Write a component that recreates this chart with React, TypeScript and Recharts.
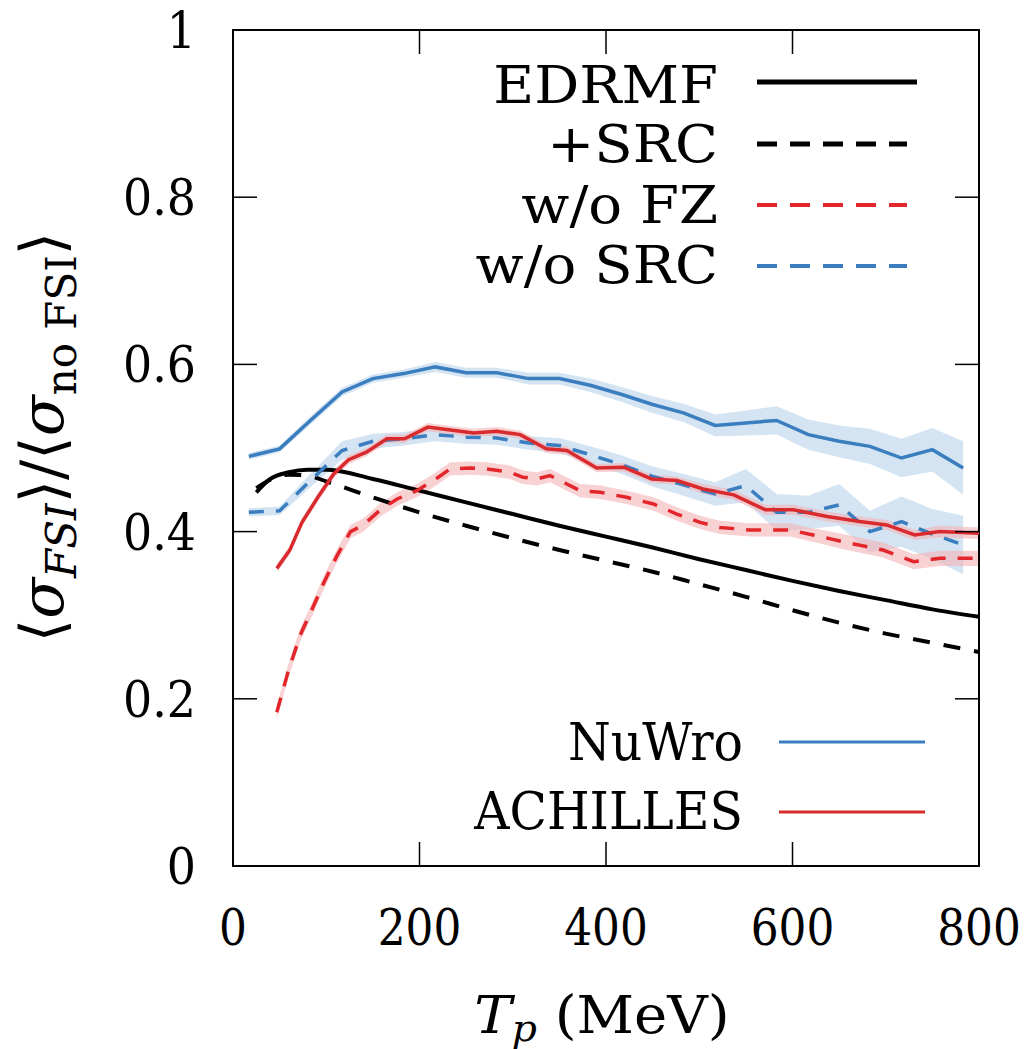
import React from 'react';
import { ComposedChart, Line, Area, XAxis, YAxis, ReferenceArea } from 'recharts';

const W = 1025;
const H = 1049;
const PL = 233;
const PR = 979;
const PT = 30;
const PB = 866;
const TICK = 24;
const FONT = '"DejaVu Serif", serif';

const xTicks = [0, 200, 400, 600, 800];
const yTicks = [0, 0.2, 0.4, 0.6, 0.8, 1];

// NuWro (bins of T_p, MeV)
const nuwroTp = [17, 50, 83, 117, 150, 183, 217, 250, 283, 317, 350, 383, 417, 450, 483, 517, 550, 583, 617, 650, 683, 717, 750, 783];
const nuwroFull = [0.490, 0.499, 0.533, 0.567, 0.583, 0.589, 0.597, 0.590, 0.590, 0.583, 0.583, 0.575, 0.564, 0.552, 0.542, 0.527, 0.530, 0.533, 0.516, 0.508, 0.502, 0.488, 0.498, 0.476];
const nuwroFullErr = [0.004, 0.004, 0.005, 0.005, 0.005, 0.005, 0.006, 0.006, 0.006, 0.007, 0.007, 0.008, 0.009, 0.010, 0.011, 0.013, 0.015, 0.017, 0.018, 0.019, 0.021, 0.023, 0.026, 0.032];
const nuwroNoSrc = [0.423, 0.425, 0.461, 0.497, 0.508, 0.511, 0.516, 0.513, 0.512, 0.506, 0.503, 0.492, 0.480, 0.466, 0.456, 0.445, 0.455, 0.423, 0.423, 0.432, 0.400, 0.412, 0.397, 0.384];
const nuwroNoSrcErr = [0.005, 0.005, 0.008, 0.011, 0.009, 0.008, 0.008, 0.008, 0.008, 0.008, 0.009, 0.010, 0.011, 0.012, 0.013, 0.014, 0.020, 0.022, 0.020, 0.025, 0.025, 0.030, 0.030, 0.035];

// ACHILLES full
const achFullTp = [47, 61, 74, 91, 108, 124, 143, 165, 184, 209, 229, 258, 283, 308, 336, 358, 390, 419, 449, 476, 504, 537, 571, 601, 637, 672, 701, 731, 758, 800];
const achFull = [0.356, 0.378, 0.411, 0.441, 0.469, 0.486, 0.495, 0.511, 0.511, 0.525, 0.522, 0.518, 0.520, 0.516, 0.499, 0.497, 0.476, 0.477, 0.463, 0.461, 0.451, 0.444, 0.426, 0.426, 0.418, 0.412, 0.408, 0.396, 0.400, 0.398];
const achFullErr = [0.005, 0.005, 0.005, 0.005, 0.005, 0.005, 0.005, 0.005, 0.005, 0.005, 0.005, 0.005, 0.005, 0.005, 0.005, 0.005, 0.005, 0.005, 0.005, 0.005, 0.006, 0.006, 0.006, 0.006, 0.006, 0.006, 0.006, 0.006, 0.007, 0.007];

// ACHILLES w/o FZ
const achNoFzTp = [47, 59, 72, 86, 97, 111, 126, 140, 158, 176, 197, 215, 233, 254, 272, 297, 311, 326, 340, 358, 372, 394, 422, 451, 476, 501, 522, 554, 597, 622, 654, 697, 730, 758, 800];
const achNoFz = [0.184, 0.232, 0.276, 0.310, 0.338, 0.370, 0.400, 0.408, 0.426, 0.439, 0.449, 0.461, 0.475, 0.476, 0.475, 0.471, 0.465, 0.463, 0.467, 0.457, 0.449, 0.447, 0.441, 0.433, 0.421, 0.411, 0.405, 0.402, 0.402, 0.396, 0.388, 0.378, 0.364, 0.368, 0.368];
const achNoFzErr = [0.008, 0.008, 0.008, 0.008, 0.008, 0.008, 0.008, 0.008, 0.008, 0.008, 0.008, 0.008, 0.008, 0.008, 0.008, 0.008, 0.008, 0.008, 0.008, 0.008, 0.008, 0.008, 0.008, 0.008, 0.008, 0.008, 0.008, 0.008, 0.008, 0.008, 0.009, 0.009, 0.009, 0.009, 0.009];

// EDRMF calculations
const edTp = [25, 40, 60, 80, 100, 150, 200, 250, 300, 350, 400, 450, 500, 550, 600, 650, 700, 750, 800];
const edrmf = [0.447, 0.463, 0.471, 0.474, 0.474, 0.463, 0.449, 0.435, 0.421, 0.407, 0.394, 0.381, 0.367, 0.354, 0.341, 0.329, 0.318, 0.307, 0.298];
const edrmfSrc = [0.452, 0.462, 0.468, 0.467, 0.460, 0.441, 0.423, 0.407, 0.392, 0.378, 0.365, 0.352, 0.337, 0.322, 0.306, 0.291, 0.278, 0.267, 0.256];

const topLegendNames = ['EDRMF', '+SRC', 'w/o FZ', 'w/o SRC'];
const bottomLegendNames = ['NuWro', 'ACHILLES'];

const BLUE = '#3a7ebf';
const RED = '#d92a2e';
const RED_DASH = '#e3262b';
const BLUE_BAND = '#b7d2ea';
const RED_BAND = '#f4b3b6';

const pts = (xs: number[], ys: number[], errs?: number[]) =>
  xs.map((x, i) => ({
    x,
    y: ys[i],
    band: errs ? [ys[i] - errs[i], ys[i] + errs[i]] : undefined,
  }));

const nuwroFullData = pts(nuwroTp, nuwroFull, nuwroFullErr);
const nuwroNoSrcData = pts(nuwroTp, nuwroNoSrc, nuwroNoSrcErr);
const achFullData = pts(achFullTp, achFull, achFullErr);
const achNoFzData = pts(achNoFzTp, achNoFz, achNoFzErr);
const edData = pts(edTp, edrmf);
const edSrcData = pts(edTp, edrmfSrc);

const XTick = (props: any) => {
  const { x, payload } = props;
  return (
    <g>
      <line x1={x} x2={x} y1={PB} y2={PB - TICK} stroke="#000" strokeWidth={1.5} />
      <line x1={x} x2={x} y1={PT} y2={PT + TICK} stroke="#000" strokeWidth={1.5} />
      <text transform={`translate(${x} ${PB + 79}) scale(0.86 1)`} textAnchor="middle" fontFamily={FONT} fontSize={51} fill="#000">
        {String(payload.value)}
      </text>
    </g>
  );
};

const YTick = (props: any) => {
  const { y, payload } = props;
  return (
    <g>
      <line x1={PL} x2={PL + TICK} y1={y} y2={y} stroke="#000" strokeWidth={1.5} />
      <line x1={PR} x2={PR - TICK} y1={y} y2={y} stroke="#000" strokeWidth={1.5} />
      <text transform={`translate(196 ${y + 18}) scale(0.9 1)`} textAnchor="end" fontFamily={FONT} fontSize={51} fill="#000">
        {String(payload.value)}
      </text>
    </g>
  );
};

const topStyles = [
  { color: '#000', dash: undefined as string | undefined, width: 5 },
  { color: '#000', dash: '20 13', width: 5 },
  { color: RED_DASH, dash: '20 13', width: 4 },
  { color: BLUE, dash: '20 13', width: 4 },
];
const topRows = [84, 143, 204, 264];
const bottomColors = [BLUE, RED];
const bottomRows = [741, 810];

const Overlay = () => (
  <div style={{ position: 'absolute', left: 0, top: 0, width: W, height: H, pointerEvents: 'none', color: '#000', fontFamily: FONT }}>
    {topLegendNames.map((name, i) => (
      <div key={name} style={{ position: 'absolute', left: 0, top: topRows[i] - 29, width: 718, height: 60, lineHeight: '60px', fontSize: 52, textAlign: 'right', whiteSpace: 'nowrap', transform: 'scaleX(1.08)', transformOrigin: 'right center' }}>
        {name}
      </div>
    ))}
    {topLegendNames.map((name, i) => (
      <svg key={name + 's'} style={{ position: 'absolute', left: 750, top: [82, 144, 205, 266][i] - 10 }} width={180} height={20}>
        <line x1={7} x2={i === 0 ? 167 : 157} y1={10} y2={10} stroke={topStyles[i].color} strokeWidth={topStyles[i].width} strokeDasharray={topStyles[i].dash} />
      </svg>
    ))}
    {bottomLegendNames.map((name, i) => (
      <div key={name} style={{ position: 'absolute', left: 0, top: bottomRows[i] - 29, width: 743, height: 60, lineHeight: '60px', fontSize: 52, textAlign: 'right', whiteSpace: 'nowrap', transform: 'scaleX(0.94)', transformOrigin: 'right center' }}>
        {name}
      </div>
    ))}
    {bottomLegendNames.map((name, i) => (
      <svg key={name + 's'} style={{ position: 'absolute', left: 775, top: [742, 812][i] - 10 }} width={160} height={20}>
        <line x1={4} x2={150} y1={10} y2={10} stroke={bottomColors[i]} strokeWidth={3} />
      </svg>
    ))}
    <div style={{ position: 'absolute', left: 352, top: 985, width: 500, textAlign: 'center', fontSize: 52, lineHeight: '60px', whiteSpace: 'nowrap', transform: 'scaleX(1.08)' }}>
      <i>T</i><span style={{ fontSize: '0.7em', fontStyle: 'italic', position: 'relative', top: '0.22em' }}>p</span>{'\u00a0'}(MeV)
    </div>
    <div style={{ position: 'absolute', left: 42 - 300, top: 437 - 35, width: 600, height: 70, lineHeight: '70px', textAlign: 'center', fontSize: 60, whiteSpace: 'nowrap', transform: 'rotate(-90deg)' }}>
      ⟨<i>σ</i><span style={{ fontSize: '0.7em', fontStyle: 'italic', position: 'relative', top: '0.3em' }}>FSI</span>⟩/⟨<i>σ</i><span style={{ fontSize: '0.7em', position: 'relative', top: '0.3em' }}>no FSI</span>⟩
    </div>
  </div>
);

export default function App() {
  return (
    <div style={{ position: 'absolute', left: 0, top: 0, width: W, height: H, background: '#fff' }}>
      <ComposedChart width={W} height={H} margin={{ left: PL - 60, right: W - PR, top: PT, bottom: H - PB - 60 }}>
        <XAxis type="number" dataKey="x" domain={[0, 800]} ticks={xTicks} allowDataOverflow axisLine={false} tickLine={false} height={60} tick={<XTick />} interval={0} />
        <YAxis type="number" domain={[0, 1]} ticks={yTicks} allowDataOverflow axisLine={false} tickLine={false} width={60} tick={<YTick />} interval={0} />
        <Area data={nuwroFullData} dataKey="band" type="linear" stroke="none" fill={BLUE_BAND} fillOpacity={0.6} isAnimationActive={false} />
        <Area data={nuwroNoSrcData} dataKey="band" type="linear" stroke="none" fill={BLUE_BAND} fillOpacity={0.6} isAnimationActive={false} />
        <Area data={achFullData} dataKey="band" type="linear" stroke="none" fill={RED_BAND} fillOpacity={0.6} isAnimationActive={false} />
        <Area data={achNoFzData} dataKey="band" type="linear" stroke="none" fill={RED_BAND} fillOpacity={0.6} isAnimationActive={false} />
        <Line data={edData} dataKey="y" type="monotone" stroke="#000" strokeWidth={4} dot={false} isAnimationActive={false} />
        <Line data={edSrcData} dataKey="y" type="monotone" stroke="#000" strokeWidth={4} strokeDasharray="17 14" dot={false} isAnimationActive={false} />
        <Line data={nuwroFullData} dataKey="y" type="linear" stroke={BLUE} strokeWidth={3.5} dot={false} isAnimationActive={false} />
        <Line data={nuwroNoSrcData} dataKey="y" type="linear" stroke={BLUE} strokeWidth={3.5} strokeDasharray="15 12" dot={false} isAnimationActive={false} />
        <Line data={achFullData} dataKey="y" type="linear" stroke={RED} strokeWidth={3.5} dot={false} isAnimationActive={false} />
        <Line data={achNoFzData} dataKey="y" type="linear" stroke={RED_DASH} strokeWidth={3.5} strokeDasharray="15 12" dot={false} isAnimationActive={false} />
        <ReferenceArea x1={0} x2={800} y1={0} y2={1} fill="none" stroke="#000" strokeWidth={2} ifOverflow="visible" />
      </ComposedChart>
      <Overlay />
    </div>
  );
}
